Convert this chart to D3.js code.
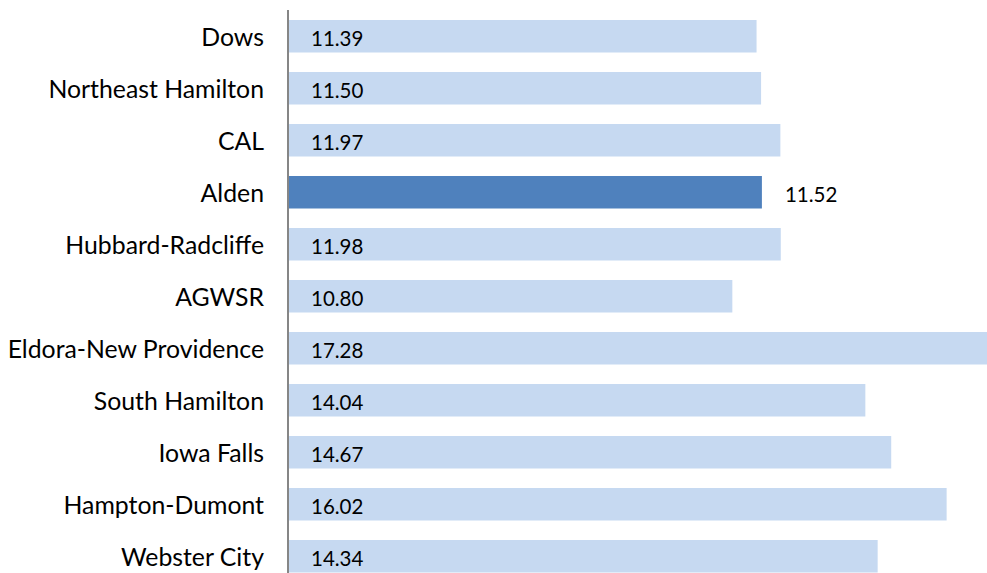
<!DOCTYPE html>
<html>
<head>
<meta charset="utf-8">
<script src="https://cdn.jsdelivr.net/npm/d3@7"></script>
<style>
html,body{margin:0;padding:0;background:#fff;overflow:hidden;}
svg{display:block;}
</style>
</head>
<body>
<svg id="chart" width="987" height="573"></svg>
<script>
const categories = ["Dows","Northeast Hamilton","CAL","Alden","Hubbard-Radcliffe","AGWSR","Eldora-New Providence","South Hamilton","Iowa Falls","Hampton-Dumont","Webster City"];
const values = [11.39,11.50,11.97,11.52,11.98,10.80,17.28,14.04,14.67,16.02,14.34];
const highlight = ["Alden"];

const svg = d3.select("#chart");
const x0 = 289;
const x = d3.scaleLinear().domain([0, 18]).range([x0, x0 + 41.05 * 18]);
const y = d3.scaleBand().domain(categories).range([10.25, 582.25]).paddingInner(0.375).paddingOuter(0.1875);

const font = "Lato, 'Open Sans', sans-serif";

svg.append("g").selectAll("rect").data(categories).join("rect")
  .attr("x", x(0))
  .attr("y", d => y(d))
  .attr("height", y.bandwidth())
  .attr("width", (d,i) => x(values[i]) - x(0))
  .attr("fill", d => highlight.includes(d) ? "#4F81BD" : "#C6D9F1");

svg.append("g").selectAll("text").data(categories).join("text")
  .attr("x", (d,i) => highlight.includes(d) ? x(values[i]) + 23 : x(0) + 22)
  .attr("y", d => y(d) + y.bandwidth()/2 + 9.5)
  .attr("font-family", font)
  .attr("font-size", 20.5)
  .attr("fill", "#000")
  .text((d,i) => values[i].toFixed(2));

const yAxis = d3.axisLeft(y).tickSize(0).tickPadding(24);
const ga = svg.append("g").attr("transform", `translate(288,0)`).call(yAxis);
ga.select(".domain").remove();
ga.selectAll("text").attr("font-family", font).attr("font-size", 24.8).attr("fill", "#000")
  .attr("dy", null).attr("y", 9.5);

svg.append("line").attr("x1", 288).attr("x2", 288).attr("y1", 10).attr("y2", 573)
  .attr("stroke", "#868686").attr("stroke-width", 2);
</script>
</body>
</html>
